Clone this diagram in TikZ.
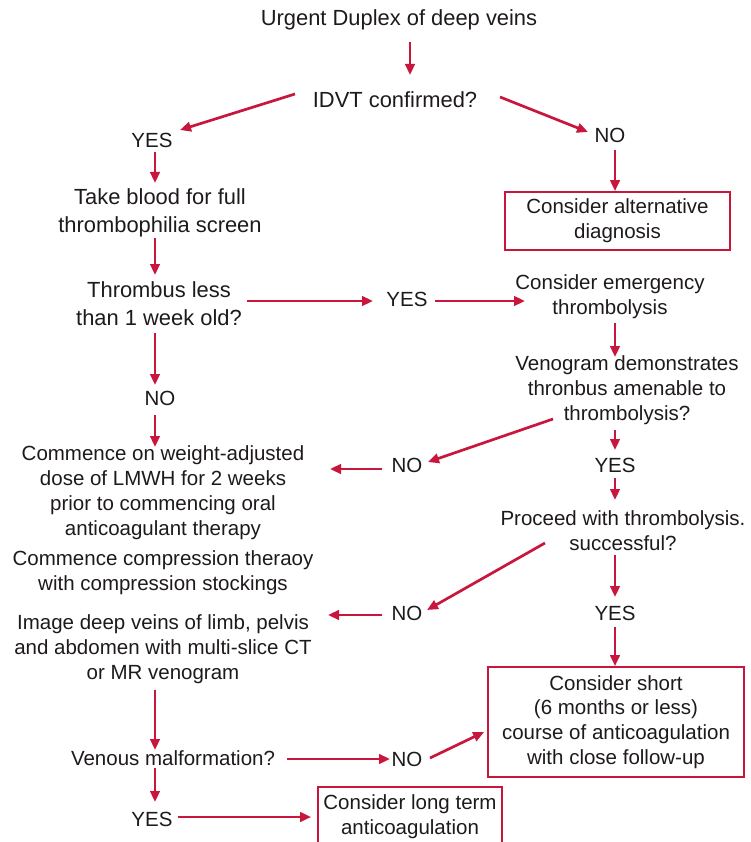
\documentclass[tikz,border=0pt]{standalone}
\usepackage{fontspec}
\setmainfont{Liberation Sans}
\usetikzlibrary{arrows.meta,calc}
\definecolor{redc}{HTML}{C8163C}
\definecolor{txtc}{HTML}{1E1A1B}
\tikzset{
  txt/.style={font=\fontsize{20.5}{24.8}\selectfont, text=txtc, align=center, inner sep=0pt},
  bigtxt/.style={txt, font=\fontsize{21.9}{28}\selectfont},
  boxn/.style={txt, draw=redc, line width=1.8pt},
  arr/.style={draw=redc, line width=2.7pt, -{Triangle[length=11pt,width=9.5pt]}}
}
\begin{document}
\begin{tikzpicture}[x=1pt,y=-1pt]
\useasboundingbox (0,0) rectangle (751,842);
\clip (0,0) rectangle (751,842);
% nodes
\node[bigtxt] (n1) at (399,20) {Urgent Duplex of deep veins};
\node[bigtxt] (n2) at (395,100) {IDVT confirmed?};
\node[txt] (yes1) at (152,140) {YES};
\node[txt] (no1) at (610,135) {NO};
\node[bigtxt] (n3) at (160,212.5) {Take blood for full\\thrombophilia screen};
\node[boxn, minimum width=225pt, minimum height=58pt] (alt) at (617.5,221) {Consider alternative\\diagnosis};
\node[bigtxt] (n4) at (159,303.5) {Thrombus less\\than 1 week old?};
\node[txt] (yes2) at (407,299) {YES};
\node[txt] (n5) at (610,297) {Consider emergency\\thrombolysis};
\node[txt] (n6) at (627,390) {Venogram demonstrates\\thronbus amenable to\\thrombolysis?};
\node[txt] (no2) at (160,398) {NO};
\node[txt] (no3) at (407,465) {NO};
\node[txt] (n7) at (163,492.5) {Commence on weight-adjusted\\dose of LMWH for 2 weeks\\prior to commencing oral\\anticoagulant therapy};
\node[txt] (yes3) at (615,465) {YES};
\node[txt] (n8) at (623,531) {Proceed with thrombolysis.\\successful?};
\node[txt] (n9) at (163,573) {Commence compression theraoy\\with compression stockings};
\node[txt] (no4) at (407,613) {NO};
\node[txt] (yes4) at (615,613) {YES};
\node[txt] (n10) at (163,649) {Image deep veins of limb, pelvis\\and abdomen with multi-slice CT\\or MR venogram};
\node[boxn, minimum width=256pt, minimum height=110pt] (short) at (616,722) {Consider short\\(6 months or less)\\course of anticoagulation\\with close follow-up};
\node[txt] (n11) at (173,758) {Venous malformation?};
\node[txt] (no5) at (407,759) {NO};
\node[txt] (yes5) at (152,819) {YES};
\node[boxn, minimum width=184pt, minimum height=60pt] (long) at (410,817) {Consider long term\\anticoagulation};
% connectors
\draw[arr] ($(n1.center)+(11,22)$) -- ($(n2.center)+(15,-25)$);
\draw[arr] ($(n2.center)+(-100,-6)$) -- ($(yes1.center)+(28,-10)$);
\draw[arr] ($(n2.center)+(105,-3)$) -- ($(no1.center)+(-22,-3)$);
\draw[arr] ($(yes1.center)+(3,12)$) -- ($(n3.center)+(-5,-29.5)$);
\draw[arr] ($(no1.center)+(5,15)$) -- ($(alt.north)+(-2.5,0)$);
\draw[arr] ($(n3.center)+(-5,25.5)$) -- ($(n4.center)+(-4,-28.5)$);
\draw[arr] ($(n4.center)+(88,-2.5)$) -- ($(yes2.center)+(-34,2)$);
\draw[arr] ($(yes2.center)+(28,2)$) -- ($(n5.center)+(-85,4)$);
\draw[arr] ($(n5.center)+(5,26)$) -- ($(n6.center)+(-12,-33)$);
\draw[arr] ($(n4.center)+(-4,29.5)$) -- ($(no2.center)+(-5,-13)$);
\draw[arr] ($(no2.center)+(-5,17)$) -- ($(n7.center)+(-8,-45.5)$);
\draw[arr] ($(n6.center)+(-74,29)$) -- ($(no3.center)+(21,-3)$);
\draw[arr] ($(no3.center)+(-25,4)$) -- ($(n7.center)+(167,-23.5)$);
\draw[arr] ($(n6.center)+(-12,40)$) -- ($(yes3.center)+(0,-15)$);
\draw[arr] ($(yes3.center)+(0,13)$) -- ($(n8.center)+(-8,-31)$);
\draw[arr] ($(n8.center)+(-78,12)$) -- ($(no4.center)+(20,-3)$);
\draw[arr] ($(no4.center)+(-25,2)$) -- ($(n10.center)+(165,-34)$);
\draw[arr] ($(n8.center)+(-8,24)$) -- ($(yes4.center)+(0,-16)$);
\draw[arr] ($(yes4.center)+(0,14)$) -- ($(short.north)+(-1,0)$);
\draw[arr] ($(n10.center)+(-8,41)$) -- ($(n11.center)+(-18,-8)$);
\draw[arr] ($(n11.center)+(114,1)$) -- ($(no5.center)+(-17,0)$);
\draw[arr] ($(no5.center)+(23,-1)$) -- ($(short.west)+(-3,10)$);
\draw[arr] ($(n11.center)+(-18,10)$) -- ($(yes5.center)+(3,-17)$);
\draw[arr] ($(yes5.center)+(26,-2)$) -- ($(long.west)+(-6,0)$);
\end{tikzpicture}
\end{document}
